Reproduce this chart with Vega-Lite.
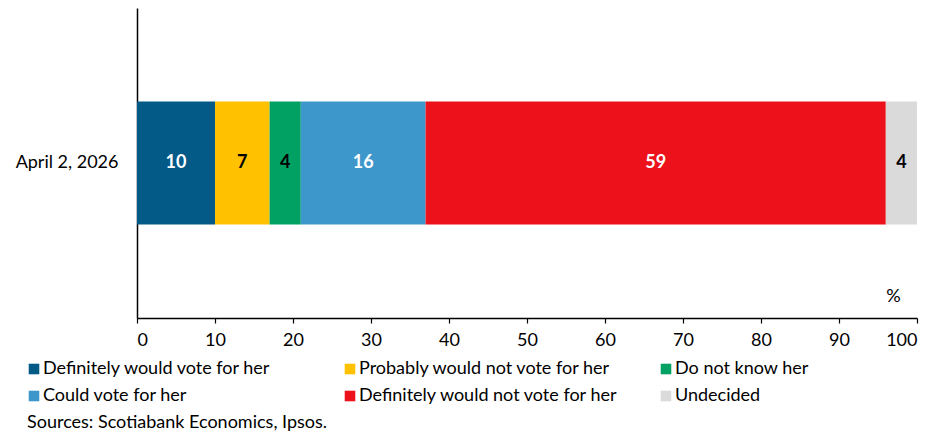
{
  "$schema": "https://vega.github.io/schema/vega-lite/v6.json",
  "autosize": {"type": "none"},
  "padding": {"left": 137, "top": 8, "right": 15, "bottom": 115},
  "width": 780,
  "height": 310,
  "background": "white",
  "config": {
    "font": "Lato",
    "view": {"stroke": null},
    "axis": {"labelFont": "Lato", "titleFont": "Lato"},
    "legend": {"labelFont": "Lato"}
  },
  "title": {
    "text": "Sources: Scotiabank Economics, Ipsos.",
    "orient": "bottom",
    "anchor": "start",
    "frame": "group",
    "dx": -110,
    "offset": 9,
    "fontSize": 18,
    "fontWeight": "normal",
    "color": "#000000",
    "font": "Lato"
  },
  "data": {
    "values": [
      {"date": "April 2, 2026", "category": "Definitely would vote for her", "order": 1, "value": 10},
      {"date": "April 2, 2026", "category": "Probably would not vote for her", "order": 2, "value": 7},
      {"date": "April 2, 2026", "category": "Do not know her", "order": 3, "value": 4},
      {"date": "April 2, 2026", "category": "Could vote for her", "order": 4, "value": 16},
      {"date": "April 2, 2026", "category": "Definitely would not vote for her", "order": 5, "value": 59},
      {"date": "April 2, 2026", "category": "Undecided", "order": 6, "value": 4}
    ]
  },
  "encoding": {
    "y": {
      "field": "date",
      "type": "nominal",
      "axis": {
        "title": null,
        "ticks": false,
        "domain": true,
        "domainColor": "#000000",
        "domainWidth": 1.5,
        "labelFontSize": 18,
        "labelColor": "#000000",
        "labelPadding": 19
      }
    },
    "order": {"field": "order", "type": "quantitative"}
  },
  "layer": [
    {
      "mark": {"type": "bar", "size": 123},
      "encoding": {
        "x": {
          "field": "value",
          "type": "quantitative",
          "stack": "zero",
          "scale": {"domain": [0, 100], "nice": false},
          "axis": {
            "values": [0, 10, 20, 30, 40, 50, 60, 70, 80, 90, 100],
            "grid": false,
            "domainColor": "#000000",
            "domainWidth": 1.5,
            "tickColor": "#000000",
            "tickSize": 5,
            "tickWidth": 1.2,
            "labelFontSize": 18,
            "labelColor": "#000000",
            "labelPadding": 8,
            "title": "%",
            "titleFontSize": 18,
            "titleFontWeight": "normal",
            "titleColor": "#000000",
            "titleX": 756,
            "titleY": -31,
            "titleAlign": "center"
          }
        },
        "color": {
          "field": "category",
          "type": "nominal",
          "scale": {
            "domain": ["Definitely would vote for her", "Probably would not vote for her", "Do not know her", "Could vote for her", "Definitely would not vote for her", "Undecided"],
            "range": ["#035a87", "#ffc100", "#00a163", "#3e97cb", "#ec111a", "#dadada"]
          },
          "legend": {
            "orient": "none",
            "legendX": -112,
            "legendY": 352,
            "title": null,
            "columns": 3,
            "direction": "horizontal",
            "gridAlign": "all",
            "columnPadding": 38,
            "rowPadding": 9,
            "symbolType": "square",
            "symbolSize": 112,
            "symbolStrokeWidth": 0,
            "symbolOffset": 0,
            "labelOffset": 0,
            "labelFontSize": 18,
            "labelColor": "#000000",
            "labelLimit": 400
          }
        }
      }
    },
    {
      "mark": {"type": "text", "fontSize": 18, "fontWeight": "bold", "baseline": "middle", "align": "center"},
      "encoding": {
        "x": {"field": "value", "type": "quantitative", "stack": "zero", "bandPosition": 0.5},
        "detail": {"field": "category", "type": "nominal"},
        "text": {"field": "value", "type": "quantitative"},
        "color": {
          "condition": {
            "test": "indexof(['Probably would not vote for her','Do not know her','Undecided'], datum.category) >= 0",
            "value": "#000000"
          },
          "value": "#ffffff"
        }
      }
    }
  ]
}
